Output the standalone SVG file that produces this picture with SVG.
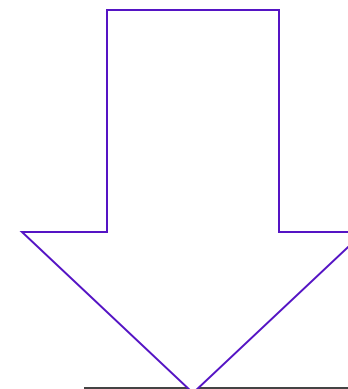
<svg xmlns="http://www.w3.org/2000/svg" width="348" height="389" viewBox="0 0 348 389">
<style>
.arrow{fill:#ffffff;stroke:#5514c4;stroke-width:2;stroke-linejoin:miter}
.base{stroke:#444444;stroke-width:2}
</style>
<rect width="348" height="389" fill="#ffffff"/>
<g id="connectors">
<line class="base" x1="84" y1="388" x2="360" y2="388"/>
</g>
<g id="arrow">
<polygon class="arrow" points="107,10 279,10 279,232 364,232 193,393 22,232 107,232"/>
</g>
</svg>
